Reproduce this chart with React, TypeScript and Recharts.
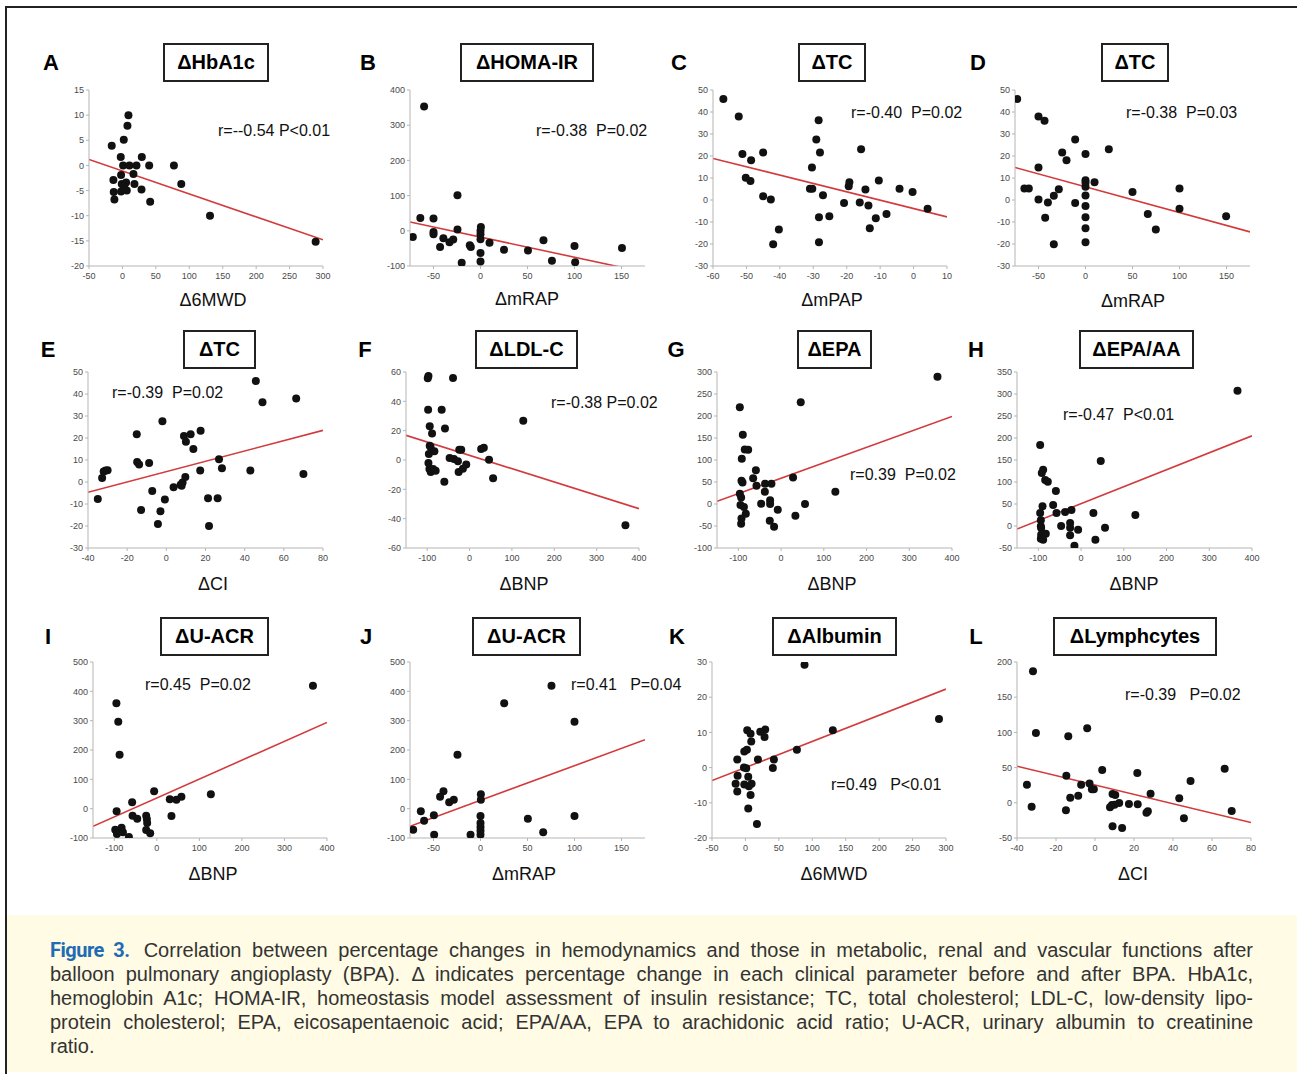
import React from "react";
import { ScatterChart, Scatter, XAxis, YAxis, ReferenceLine } from "recharts";

// ---- data ----

// A: ΔHbA1c vs Δ6MWD
const ptsA = [
  [9, 10], [7.5, 7.9], [2, 5.1], [-16, 3.9], [-2.5, 1.7], [29, 1.7], [1, 0], [10.5, 0],
  [21, 0], [40, 0], [77, 0], [16.5, -1.7], [-2, -1.9], [-13.5, -2.9], [-1, -3.7], [5.5, -3.4],
  [18, -3.7], [88, -3.7], [6.5, -5], [-2, -5.2], [28.5, -4.8], [-13, -5.3], [-12, -6.8],
  [41.5, -7.2], [131, -10], [289, -15.2], [2.5, -4.3],
];
const fitA = [-50, 1.2, 300, -14.8];

// B: ΔHOMA-IR vs ΔmRAP
const ptsB = [
  [-60, 353], [-24.5, 101], [-64, 36.6], [-50, 34.7], [-72, -17.5], [-50, -3.2], [-50, -10],
  [-24.5, 3.4], [-39.5, -21], [-43, -46], [-33, -32.6], [-29, -25], [-11.4, -41], [-10.3, -46],
  [-20, -91], [0.4, 11], [0, 0], [0, -10], [0, -24], [0, -63], [0, -87], [9.6, -33.6],
  [25, -53.5], [50.5, -56], [67, -27], [76, -85], [100, -43], [100.7, -89], [150.5, -49],
];
const fitB = [-75, 25, 175, -118];

// C: ΔTC vs ΔmPAP
const ptsC = [
  [-56.9, 45.9], [-52.3, 37.9], [-51.2, 20.9], [-45, 21.6], [-48.6, 18.1], [-50.2, 10.1],
  [-48.8, 8.6], [-45, 1.7], [-42.7, 0.2], [-40.3, -13.4], [-42, -20.1], [-28.4, 36.2],
  [-29.1, 27.5], [-28, 21.6], [-30.4, 14.8], [-31, 5.1], [-30.3, 5.1], [-27.1, 2.2],
  [-28.3, -7.8], [-25.2, -7.4], [-28.3, -19.2], [-20.8, -1.4], [-19.4, 6.3], [-19.2, 8.1],
  [-15.7, 23.1], [-16.1, -1.1], [-14.4, 4.8], [-13.5, -2.5], [-13.1, -12.8], [-11.3, -8.3],
  [-10.4, 8.9], [-8.1, -6.4], [-4.2, 5.1], [-0.3, 3.6], [4.2, -4],
];
const fitC = [-60, 18.9, 10, -7.7];

// D: ΔTC vs ΔmRAP
const ptsD = [
  [-72.7, 45.9], [-50, 37.9], [-43.6, 36], [-11, 27.5], [-24.8, 21.6], [-20.2, 18.1],
  [0, 20.9], [24.8, 23.1], [-50, 14.8], [-65, 5.2], [-60.3, 5.2], [-28.4, 4.9], [-33.7, 1.9],
  [-50, 0.2], [-40, -1.1], [-11, -1.4], [-42.9, -8.1], [-33.7, -20.1], [0, 9], [0, 7.8],
  [9.6, 8.1], [0, 6], [0, 2], [0, -2.7], [0, -7.8], [0, -12.8], [0, -19.2], [50, 3.6],
  [66.3, -6.4], [74.8, -13.4], [100, 5.2], [100, -4], [149.6, -7.4],
];
const fitD = [-75, 14.8, 175, -14.5];

// E: ΔTC vs ΔCI
const ptsE = [
  [-35, -7.7], [-32.8, 1.8], [-32, 4.8], [-31, 5.2], [-30, 5.3], [-15.1, 21.7], [-14.9, 9.1],
  [-13.9, 8], [-8.8, 8.6], [-12.9, -12.7], [-7.2, -4.1], [-2, 27.6], [-0.75, -8], [-3, -13.3],
  [-4.3, -19.1], [3.7, -2.4], [7.3, -1.2], [8.3, -0.2], [9.7, 2.3], [7.8, -1.7], [9, 20.9],
  [10, 18.3], [12.4, 21.7], [13.8, 15], [17.5, 23.3], [17.3, 5.2], [21.3, -7.4], [21.8, -20],
  [26.2, -7.4], [26.9, 10.3], [28.4, 6.2], [42.9, 5.2], [45.7, 45.9], [49.1, 36.2],
  [66.3, 37.9], [70, 3.6],
];
const fitE = [-40, -4.7, 80, 23.5];

// F: ΔLDL-C vs ΔBNP
const ptsF = [
  [-97, 57.3], [-98.6, 55.7], [-39, 55.9], [-97.8, 34.3], [-65.8, 34.3], [-94, 23], [-58, 21.4],
  [-88.5, 18], [-94, 9.8], [-92, 8.9], [-96, 4.1], [-83, 5.9], [-97, -2], [-94.7, -6.1],
  [-86, -6.1], [-91.6, -8.2], [-80, -7.3], [-59.5, -14.8], [-47, 1.4], [-36.8, 0.7],
  [-27.4, -0.9], [-24.3, 7], [-19.6, 7], [-25.8, -8.2], [-15.7, -5.9], [-7.8, -3], [27.4, 7.5],
  [33.7, 8.4], [46, 0.2], [55.6, -12.5], [126.8, 26.8], [368, -44.5],
];
const fitF = [-150, 16.8, 400, -33.2];

// G: ΔEPA vs ΔBNP
const ptsG = [
  [-96.6, 219.7], [-89.6, 157.6], [-85, 124], [-77, 123.5], [-92, 103], [-59, 76.5],
  [-65.4, 58.3], [-92.7, 53], [-90.3, 49], [-57.6, 41.7], [-37.4, 46], [-22.6, 46],
  [-96.6, 23.5], [-93.5, 15], [-38, 28], [-95, -2.3], [-87, -6.8], [-82.6, -22], [-92.7, -33],
  [-93.5, -44.7], [-46.7, 0.8], [-25.7, 8.3], [-25.7, 0], [-7.8, -13], [-26.5, -37.9],
  [-16.4, -51.5], [28, 60], [33.5, -26.5], [46, 231], [56, 0], [127, 28], [366, 289],
];
const fitG = [-150, 6, 400, 199];

// H: ΔEPA/AA vs ΔBNP
const ptsH = [
  [366, 307.6], [-95.8, 184], [-88.8, 128], [-92, 120.5], [-84, 104.5], [-77.9, 100.8],
  [-59, 79.5], [-65.4, 47.7], [-90.3, 44.7], [-95.8, 29.5], [-57.6, 29.5], [-37.4, 31.8],
  [-22.6, 36.4], [28.8, 29.5], [46, 147.7], [127, 25], [-94.2, 12.9], [-94.2, -0.8],
  [-93.5, -4.5], [-93.5, -19.7], [-82.6, -17.4], [-94.2, -28.8], [-88.8, -31], [-46.7, 0],
  [-25.7, 6.8], [-25.7, -3.8], [-25.7, -21.2], [-7, -8.3], [-15.6, -44.7], [33.5, -31], [56, -3.8],
];
const fitH = [-150, -7, 400, 205];

// I: ΔU-ACR vs ΔBNP
const ptsI = [
  [367, 419], [-95, 359], [-90.6, 296.6], [-87.5, 184], [-6.3, 59], [-58, 21.6], [-94.5, -9],
  [-57, -24], [-46, -34], [-25, -24], [-23.4, -35], [-22.7, -49], [-25, -72.7], [-15.6, -84],
  [-97.7, -71.6], [-93.8, -86], [-82.8, -64.8], [-79.7, -80.7], [-65.6, -96.6], [30.5, 31.8],
  [46, 30.7], [57.8, 41], [34.4, -25], [127, 49],
];
const fitI = [-150, -60, 400, 294];

// J: ΔU-ACR vs ΔmRAP
const ptsJ = [
  [75.5, 419], [25.2, 359], [100, 296.6], [-24.5, 184], [-39.4, 59], [-43, 41], [-33.3, 21.6],
  [-28.4, 30.7], [-63.5, -9], [-60, -41], [-49.6, -22.7], [-71.6, -71.6], [-49.3, -88.6],
  [-10.6, -88.6], [0.4, 48.9], [0.4, 30.7], [0, -25], [0, -49], [0, -62.5], [0, -75],
  [0, -88.6], [50.4, -34], [66.7, -80.7], [100, -25],
];
const fitJ = [-75, -60, 175, 235];

// K: ΔAlbumin vs Δ6MWD
const ptsK = [
  [88.4, 29.2], [289.5, 13.8], [130.7, 10.6], [2.7, 10.6], [7.7, 9.6], [29.6, 10.8],
  [22.2, 10.2], [8.7, 7.4], [28.6, 8.7], [-1.7, 4.6], [2.2, 5.1], [77, 5.1], [-12.2, 2.3],
  [18.7, 2.3], [42.6, 2.3], [-2.2, 0], [1.2, -0.2], [41, -0.1], [-11.7, -2.3], [4.2, -2.6],
  [-14.7, -4.6], [-1.7, -4.8], [5.2, -5.3], [9.2, -4.6], [-12.2, -6.8], [7.7, -7.8],
  [4.2, -11.6], [17.2, -16],
];
const fitK = [-50, -3.7, 300, 22.3];

// L: ΔLymphcytes vs ΔCI
const ptsL = [
  [-31.8, 187], [-30.3, 99], [-13.7, 94.4], [-4, 105.8], [-34.9, 25.8], [-32.5, -5.5],
  [-14.7, 38.6], [-14.9, -10.7], [-12.7, 7.3], [-8.6, 10.1], [-7.1, 25.8], [-2.8, 27.3],
  [-1.6, 19.2], [-0.6, 19.2], [3.7, 46.6], [9, 12.5], [10.4, 11.1], [7.7, -6.4], [8.7, -3.1],
  [10, -2.6], [12.4, -0.3], [9, -33.3], [13.9, -35.8], [17.4, -1.7], [21.7, 42.4], [21.9, -2.1],
  [26.4, -14], [27.1, -12.1], [28.5, 13], [43.2, 6.3], [45.6, -22], [49, 31], [66.5, 48.5],
  [70.1, -11.6],
];
const fitL = [-40, 52, 80, -28];

// axis ticks
const ticks6MWD = [-50, 0, 50, 100, 150, 200, 250, 300];
const ticksRAP = [-50, 0, 50, 100, 150];
const ticksPAP = [-60, -50, -40, -30, -20, -10, 0, 10];
const ticksCI = [-40, -20, 0, 20, 40, 60, 80];
const ticksBNP = [-100, 0, 100, 200, 300, 400];
const ticksHbA1c = [-20, -15, -10, -5, 0, 5, 10, 15];
const ticksHOMA = [-100, 0, 100, 200, 300, 400];
const ticksTC = [-30, -20, -10, 0, 10, 20, 30, 40, 50];
const ticksLDL = [-60, -40, -20, 0, 20, 40, 60];
const ticksEPA = [-100, -50, 0, 50, 100, 150, 200, 250, 300];
const ticksEPAAA = [-50, 0, 50, 100, 150, 200, 250, 300, 350];
const ticksUACR = [-100, 0, 100, 200, 300, 400, 500];
const ticksAlb = [-20, -10, 0, 10, 20, 30];
const ticksLym = [-50, 0, 50, 100, 150, 200];

const panels = [
  { letter: "A", title: "ΔHbA1c", xLabel: "Δ6MWD", stat: "r=--0.54 P<0.01", pts: ptsA, fit: fitA, xDom: [-50, 300], xTicks: ticks6MWD, yDom: [-20, 15], yTicks: ticksHbA1c },
  { letter: "B", title: "ΔHOMA-IR", xLabel: "ΔmRAP", stat: "r=-0.38  P=0.02", pts: ptsB, fit: fitB, xDom: [-75, 175], xTicks: ticksRAP, yDom: [-100, 400], yTicks: ticksHOMA },
  { letter: "C", title: "ΔTC", xLabel: "ΔmPAP", stat: "r=-0.40  P=0.02", pts: ptsC, fit: fitC, xDom: [-60, 10], xTicks: ticksPAP, yDom: [-30, 50], yTicks: ticksTC },
  { letter: "D", title: "ΔTC", xLabel: "ΔmRAP", stat: "r=-0.38  P=0.03", pts: ptsD, fit: fitD, xDom: [-75, 175], xTicks: ticksRAP, yDom: [-30, 50], yTicks: ticksTC },
  { letter: "E", title: "ΔTC", xLabel: "ΔCI", stat: "r=-0.39  P=0.02", pts: ptsE, fit: fitE, xDom: [-40, 80], xTicks: ticksCI, yDom: [-30, 50], yTicks: ticksTC },
  { letter: "F", title: "ΔLDL-C", xLabel: "ΔBNP", stat: "r=-0.38 P=0.02", pts: ptsF, fit: fitF, xDom: [-150, 400], xTicks: ticksBNP, yDom: [-60, 60], yTicks: ticksLDL },
  { letter: "G", title: "ΔEPA", xLabel: "ΔBNP", stat: "r=0.39  P=0.02", pts: ptsG, fit: fitG, xDom: [-150, 400], xTicks: ticksBNP, yDom: [-100, 300], yTicks: ticksEPA },
  { letter: "H", title: "ΔEPA/AA", xLabel: "ΔBNP", stat: "r=-0.47  P<0.01", pts: ptsH, fit: fitH, xDom: [-150, 400], xTicks: ticksBNP, yDom: [-50, 350], yTicks: ticksEPAAA },
  { letter: "I", title: "ΔU-ACR", xLabel: "ΔBNP", stat: "r=0.45  P=0.02", pts: ptsI, fit: fitI, xDom: [-150, 400], xTicks: ticksBNP, yDom: [-100, 500], yTicks: ticksUACR },
  { letter: "J", title: "ΔU-ACR", xLabel: "ΔmRAP", stat: "r=0.41   P=0.04", pts: ptsJ, fit: fitJ, xDom: [-75, 175], xTicks: ticksRAP, yDom: [-100, 500], yTicks: ticksUACR },
  { letter: "K", title: "ΔAlbumin", xLabel: "Δ6MWD", stat: "r=0.49   P<0.01", pts: ptsK, fit: fitK, xDom: [-50, 300], xTicks: ticks6MWD, yDom: [-20, 30], yTicks: ticksAlb },
  { letter: "L", title: "ΔLymphcytes", xLabel: "ΔCI", stat: "r=-0.39   P=0.02", pts: ptsL, fit: fitL, xDom: [-40, 80], xTicks: ticksCI, yDom: [-50, 200], yTicks: ticksLym },
];

// ---- layout (page pixels) ----
// plot: [left, top, width, height], box: [left, top, width], letter/stat/xlab: [x, y]
const layout = [
  { plot: [89, 90, 234, 176], box: [163, 43, 106], letter: [51, 63], stat: [218, 131], xlab: [213, 300] },
  { plot: [410, 90, 235, 176], box: [460, 43, 134], letter: [368, 63], stat: [536, 131], xlab: [527, 299] },
  { plot: [713, 90, 234, 176], box: [798, 43, 68], letter: [679, 63], stat: [851, 113], xlab: [832, 300] },
  { plot: [1015, 90, 235, 176], box: [1101, 43, 68], letter: [978, 63], stat: [1126, 113], xlab: [1133, 301] },
  { plot: [88, 372, 235, 176], box: [183, 330, 73], letter: [48, 350], stat: [112, 393], xlab: [213, 584] },
  { plot: [406, 372, 233, 176], box: [475, 330, 103], letter: [365, 350], stat: [551, 403], xlab: [524, 584] },
  { plot: [717, 372, 235, 176], box: [797, 330, 75], letter: [676, 350], stat: [850, 475], xlab: [832, 584] },
  { plot: [1017, 372, 235, 176], box: [1079, 330, 115], letter: [976, 350], stat: [1063, 415], xlab: [1134, 584] },
  { plot: [93, 662, 234, 176], box: [160, 617, 109], letter: [48, 637], stat: [145, 685], xlab: [213, 874] },
  { plot: [410, 662, 235, 176], box: [472, 617, 109], letter: [366, 637], stat: [571, 685], xlab: [524, 874] },
  { plot: [712, 662, 234, 176], box: [772, 617, 125], letter: [677, 637], stat: [831, 785], xlab: [834, 874] },
  { plot: [1017, 662, 234, 176], box: [1053, 617, 164], letter: [976, 637], stat: [1125, 695], xlab: [1133, 874] },
];

const FONT = "'Liberation Sans', Arial, sans-serif";
const AXIS = "#b5b5b5";
const RED = "#d23a3c";
const YW = 32;
const MT = 6;
const MR = 8;
const XH = 20;

const tick = { fontSize: 9, fill: "#4a4a4a", fontFamily: FONT };

const Dot = (props: any) => <circle cx={props.cx} cy={props.cy} r={4} fill="#111" />;

function Panel({ p, l }: { p: any; l: any }) {
  const [left, top, w, h] = l.plot;
  const data = p.pts.map(([x, y]: number[]) => ({ x, y }));
  return (
    <>
      <div style={{ position: "absolute", left: left - YW, top: top - MT }}>
        <ScatterChart width={YW + w + MR} height={MT + h + XH} margin={{ top: MT, right: MR, left: 0, bottom: 0 }}>
          <XAxis
            type="number"
            dataKey="x"
            domain={p.xDom}
            ticks={p.xTicks}
            interval={0}
            allowDataOverflow
            height={XH}
            tick={tick}
            tickSize={3}
            tickMargin={4}
            axisLine={{ stroke: AXIS }}
            tickLine={{ stroke: AXIS }}
          />
          <YAxis
            type="number"
            dataKey="y"
            domain={p.yDom}
            ticks={p.yTicks}
            interval={0}
            allowDataOverflow
            width={YW}
            tick={tick}
            tickSize={3}
            tickMargin={2}
            axisLine={{ stroke: AXIS }}
            tickLine={{ stroke: AXIS }}
          />
          <ReferenceLine
            segment={[{ x: p.fit[0], y: p.fit[1] }, { x: p.fit[2], y: p.fit[3] }]}
            stroke={RED}
            strokeWidth={1.6}
            ifOverflow="hidden"
          />
          <Scatter data={data} shape={Dot} isAnimationActive={false} />
        </ScatterChart>
      </div>
      <div style={{ position: "absolute", left: l.letter[0], top: l.letter[1], transform: "translate(-50%,-50%)", fontFamily: FONT, fontWeight: 700, fontSize: 22 }}>
        {p.letter}
      </div>
      <div
        style={{
          position: "absolute",
          left: l.box[0],
          top: l.box[1],
          width: l.box[2],
          height: 39,
          boxSizing: "border-box",
          border: "2px solid #222",
          display: "flex",
          alignItems: "center",
          justifyContent: "center",
          fontFamily: FONT,
          fontWeight: 700,
          fontSize: 20,
          whiteSpace: "nowrap",
        }}
      >
        {p.title}
      </div>
      <div style={{ position: "absolute", left: l.stat[0], top: l.stat[1], transform: "translateY(-50%)", fontFamily: FONT, fontSize: 16, whiteSpace: "pre", color: "#111" }}>
        {p.stat}
      </div>
      <div style={{ position: "absolute", left: l.xlab[0], top: l.xlab[1], transform: "translate(-50%,-50%)", fontFamily: FONT, fontSize: 18, whiteSpace: "nowrap", color: "#111" }}>
        {p.xLabel}
      </div>
    </>
  );
}

const captionLines = [
  "balloon pulmonary angioplasty (BPA). Δ indicates percentage change in each clinical parameter before and after BPA. HbA1c,",
  "hemoglobin A1c; HOMA-IR, homeostasis model assessment of insulin resistance; TC, total cholesterol; LDL-C, low-density lipo-",
  "protein cholesterol; EPA, eicosapentaenoic acid; EPA/AA, EPA to arachidonic acid ratio; U-ACR, urinary albumin to creatinine",
];

export default function App() {
  const lineStyle: React.CSSProperties = {
    height: 24,
    lineHeight: "24px",
    textAlign: "justify",
    textAlignLast: "justify",
    whiteSpace: "nowrap",
  };
  return (
    <div style={{ position: "absolute", left: 0, top: 0, width: 1297, height: 1074, background: "#fff", overflow: "hidden" }}>
      <div style={{ position: "absolute", left: 5, top: 6, width: 1300, height: 1072, border: "2px solid #222", boxSizing: "border-box" }} />
      <div style={{ position: "absolute", left: 7, top: 915, width: 1292, height: 157, background: "#fffbe4" }} />
      {panels.map((p, i) => (
        <Panel key={p.letter} p={p} l={layout[i]} />
      ))}
      <div style={{ position: "absolute", left: 50, top: 938, width: 1203, fontFamily: FONT, fontSize: 20, color: "#333" }}>
        <div style={lineStyle}>
          <span style={{ fontFamily: "'Liberation Sans Narrow', 'Roboto', Arial, sans-serif", fontWeight: 700, color: "#1f6cb4", letterSpacing: -0.5, marginRight: 14 }}>
            Figure 3.
          </span>
          {"Correlation between percentage changes in hemodynamics and those in metabolic, renal and vascular functions after"}
        </div>
        {captionLines.map((t) => (
          <div key={t} style={lineStyle}>
            {t}
          </div>
        ))}
        <div style={{ height: 24, lineHeight: "24px" }}>ratio.</div>
      </div>
    </div>
  );
}
